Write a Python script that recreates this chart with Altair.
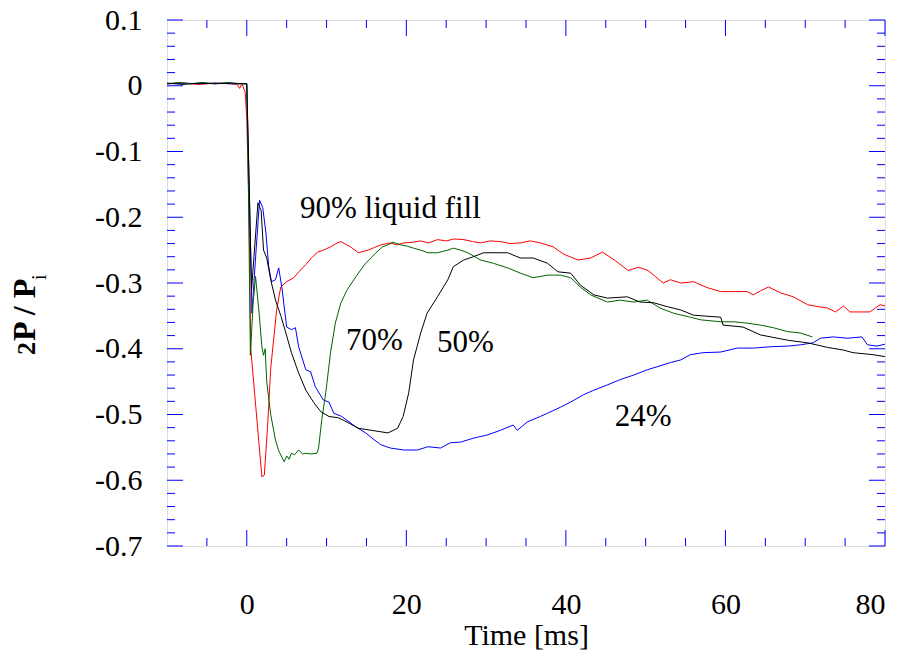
import altair as alt
import pandas as pd

# ---------------- data ----------------
RED_T = [-10, -8, -6, -4, -2, -1.2, -0.9, -0.6, -0.2, 0.0, 0.3, 0.5, 1.0, 1.5, 1.9, 2.2, 2.6, 3.0, 3.75,
         4.26, 5.0, 5.89, 6.6, 7.39, 8.1, 8.89, 9.6, 10.5, 11.2, 11.8, 12.4, 13.0, 14.0, 15.2, 16.0, 16.8,
         18.0, 18.8, 19.7, 20.8, 21.8, 22.8, 23.9, 25.0, 26.0, 27.2, 28.3, 29.3, 30.5, 31.8, 33.0, 34.3,
         35.5, 36.8, 38.4, 39.7, 41.5, 43.1, 44.6, 46.2, 47.8, 49.1, 50.3, 51.2, 52.2, 53.1, 54.4, 56.0,
         57.7, 59.4, 61.0, 62.7, 63.5, 64.4, 65.4, 66.9, 68.5, 70.3, 71.6, 72.8, 73.8, 74.8, 75.6, 77.0,
         78.1, 78.8, 79.4, 80.0]
RED_V = [0.003, 0.004, 0.002, 0.004, 0.003, 0.002, -0.004, 0.003, -0.01, -0.05, -0.2, -0.40, -0.47, -0.54,
         -0.595, -0.592, -0.52, -0.43, -0.34, -0.306, -0.298, -0.292, -0.282, -0.272, -0.262, -0.253,
         -0.25, -0.245, -0.24, -0.237, -0.241, -0.245, -0.254, -0.250, -0.246, -0.242, -0.239, -0.242,
         -0.239, -0.238, -0.236, -0.239, -0.234, -0.236, -0.233, -0.234, -0.237, -0.239, -0.236, -0.237,
         -0.240, -0.239, -0.236, -0.239, -0.245, -0.256, -0.265, -0.262, -0.253, -0.266, -0.281, -0.276,
         -0.281, -0.29, -0.300, -0.295, -0.300, -0.298, -0.307, -0.313, -0.313, -0.313, -0.318, -0.312,
         -0.306, -0.315, -0.321, -0.333, -0.336, -0.338, -0.344, -0.335, -0.344, -0.344, -0.344, -0.338,
         -0.333, -0.335]

GREEN_T = [-10, -8.5, -7, -5.5, -4, -2.5, -1, 0.0, 0.2, 0.45, 0.8, 1.1, 1.5, 1.9, 2.1, 2.3, 2.5, 3.0, 3.6,
           4.0, 4.4, 4.7, 5.0, 5.3, 5.6, 6.0, 6.5, 7.0, 7.4, 8.0, 8.8, 9.0, 9.4, 9.9, 10.5, 11.1, 11.8,
           12.6, 13.7, 14.9, 16.2, 17.0, 17.7, 18.3, 19.3, 20.1, 20.9, 21.8, 22.7, 23.9, 25.2, 25.9, 26.8,
           27.7, 29.3, 30.9, 32.7, 34.3, 35.9, 37.7, 39.3, 40.6, 41.8, 43.1, 45.2, 46.8, 48.5, 50.2, 51.8,
           53.5, 55.6, 56.9, 59.4, 61.0, 62.7, 64.4, 66.0, 67.8, 69.4, 70.9]
GREEN_V = [0.003, 0.005, 0.003, 0.005, 0.003, 0.005, 0.003, 0.003, -0.15, -0.41, -0.33, -0.29, -0.34,
           -0.397, -0.41, -0.40, -0.45, -0.50, -0.539, -0.555, -0.565, -0.572, -0.563, -0.568, -0.559,
           -0.561, -0.554, -0.56, -0.559, -0.56, -0.559, -0.551, -0.508, -0.467, -0.406, -0.361, -0.330,
           -0.310, -0.29, -0.27, -0.254, -0.245, -0.242, -0.238, -0.242, -0.244, -0.247, -0.25, -0.254,
           -0.254, -0.25, -0.247, -0.25, -0.254, -0.265, -0.270, -0.277, -0.285, -0.292, -0.288, -0.288,
           -0.292, -0.306, -0.318, -0.329, -0.326, -0.329, -0.326, -0.338, -0.346, -0.352, -0.356, -0.359,
           -0.359, -0.361, -0.364, -0.368, -0.374, -0.376, -0.382]

BLACK_T = [-10, -8, -6, -4, -2, 0.0, 0.3, 0.6, 0.9, 1.4, 1.8, 2.1, 2.5, 3.0, 3.6, 4.3, 4.9, 5.6, 6.5, 7.4,
           8.4, 9.3, 10.3, 11.5, 12.8, 14.0, 15.6, 17.7, 18.9, 19.6, 20.3, 20.9, 21.8, 22.6, 23.9, 25.2,
           25.9, 27.2, 28.4, 29.7, 31.4, 32.7, 34.3, 35.9, 37.7, 39.0, 40.6, 41.8, 43.5, 45.2, 47.7, 49.3,
           51.0, 52.7, 54.4, 56.0, 59.4, 59.7, 62.2, 64.4, 67.8, 70.3, 72.8, 74.8, 76.0, 78.5, 80.0]
BLACK_V = [0.004, 0.002, 0.004, 0.003, 0.004, 0.003, -0.15, -0.31, -0.26, -0.178, -0.19, -0.25, -0.262,
           -0.295, -0.326, -0.351, -0.376, -0.406, -0.437, -0.463, -0.482, -0.496, -0.503, -0.505, -0.513,
           -0.521, -0.524, -0.528, -0.521, -0.503, -0.467, -0.417, -0.376, -0.346, -0.321, -0.295, -0.275,
           -0.265, -0.260, -0.254, -0.254, -0.254, -0.262, -0.262, -0.270, -0.283, -0.285, -0.303, -0.318,
           -0.323, -0.321, -0.329, -0.330, -0.336, -0.341, -0.349, -0.352, -0.364, -0.367, -0.379, -0.387,
           -0.391, -0.398, -0.402, -0.406, -0.409, -0.412]

BLUE_T = [-10, -8, -6, -4, -2, 0.0, 0.3, 0.65, 1.0, 1.6, 2.0, 2.4, 2.75, 3.1, 3.6, 4.0, 4.4, 5.0, 5.6, 6.1,
          6.5, 7.4, 8.0, 8.6, 9.6, 10.3, 10.9, 11.9, 13.7, 14.9, 15.7, 16.8, 18.0, 19.7, 21.4, 22.7, 24.3,
          25.5, 26.8, 28.4, 30.2, 31.8, 33.4, 33.9, 35.2, 36.8, 37.7, 39.3, 40.6, 42.2, 43.5, 45.2, 46.8,
          48.5, 50.2, 51.8, 53.1, 54.4, 55.6, 57.2, 59.4, 61.5, 63.5, 65.6, 67.8, 69.4, 71.0, 71.9, 73.5,
          75.3, 77.1, 77.8, 79.0, 80.0]
BLUE_V = [0.003, 0.004, 0.003, 0.004, 0.003, 0.003, -0.15, -0.346, -0.28, -0.174, -0.185, -0.224, -0.275,
          -0.298, -0.295, -0.277, -0.307, -0.367, -0.371, -0.368, -0.397, -0.432, -0.435, -0.458, -0.478,
          -0.481, -0.498, -0.503, -0.519, -0.528, -0.536, -0.546, -0.551, -0.554, -0.554, -0.549, -0.551,
          -0.543, -0.542, -0.536, -0.531, -0.524, -0.516, -0.524, -0.511, -0.503, -0.498, -0.489, -0.481,
          -0.470, -0.463, -0.455, -0.447, -0.440, -0.432, -0.426, -0.421, -0.417, -0.409, -0.406, -0.405,
          -0.399, -0.399, -0.397, -0.396, -0.394, -0.391, -0.384, -0.382, -0.384, -0.382, -0.394, -0.396,
          -0.393]

SERIES = [("90%", RED_T, RED_V, "#ff0000"),
          ("24%", BLUE_T, BLUE_V, "#0000ff"),
          ("70%", GREEN_T, GREEN_V, "#006400"),
          ("50%", BLACK_T, BLACK_V, "#000000")]

ANNOT_TEXT = ["90% liquid fill", "70%", "50%", "24%"]
ANNOT_T = [18.0, 16.0, 27.4, 49.7]
ANNOT_V = [-0.187, -0.388, -0.391, -0.504]

X_LABELS = [0, 20, 40, 60, 80]
X_MINOR = [-5, 5, 10, 15, 25, 30, 35, 45, 50, 55, 65, 70, 75]
Y_LABELS = [0.1, 0.0, -0.1, -0.2, -0.3, -0.4, -0.5, -0.6, -0.7]
Y_MINOR = [round(-0.7 + 0.02 * k, 2) for k in range(41) if k % 5 != 0]

W, H = 718, 526
FONT = "Liberation Serif"
FRAME = "#0000ff"

xs = alt.Scale(domain=[-10, 80], nice=False, zero=False)
ys = alt.Scale(domain=[-0.7, 0.1], nice=False, zero=False)

x_axis = alt.Axis(values=X_LABELS, ticks=False, tickSize=0, domain=False, grid=False,
                  labelFont=FONT, labelFontSize=30, labelColor="black", labelPadding=43,
                  title="Time  [ms]", titleFont=FONT, titleFontSize=30, titleFontWeight="normal",
                  titleColor="black", titleY=89, titleBaseline="middle")
y_axis = alt.Axis(values=Y_LABELS, ticks=False, tickSize=0, domain=False, grid=False,
                  labelFont=FONT, labelFontSize=30, labelColor="black", labelPadding=25,
                  labelExpr="datum.value == 0 ? '0' : replace(format(datum.value, '.1f'), '\u2212', '-')",
                  title="")

X_ENC = alt.X("t:Q", scale=xs, axis=x_axis)
Y_ENC = alt.Y("v:Q", scale=ys, axis=y_axis)

layers = []
for name, ts, vs, col in SERIES:
    df = pd.DataFrame({"t": ts, "v": vs})
    layers.append(alt.Chart(df).mark_line(color=col, strokeWidth=1).encode(x=X_ENC, y=Y_ENC))

# annotations
ann = pd.DataFrame({"t": ANNOT_T, "v": ANNOT_V, "label": ANNOT_TEXT})
layers.append(alt.Chart(ann).mark_text(font=FONT, fontSize=31, color="black", align="center",
                                       baseline="middle").encode(x=X_ENC, y=Y_ENC, text="label:N"))

# inward ticks on all four sides
def xticks(vals, length):
    df = pd.DataFrame({"t": vals})
    bot = alt.Chart(df).mark_rule(color=FRAME, strokeWidth=1).encode(
        x=X_ENC, y=alt.value(H), y2=alt.value(H - length))
    top = alt.Chart(df).mark_rule(color=FRAME, strokeWidth=1).encode(
        x=X_ENC, y=alt.value(0), y2=alt.value(length))
    return [bot, top]

def yticks(vals, length):
    df = pd.DataFrame({"v": vals})
    left = alt.Chart(df).mark_rule(color=FRAME, strokeWidth=1).encode(
        y=Y_ENC, x=alt.value(0), x2=alt.value(length))
    right = alt.Chart(df).mark_rule(color=FRAME, strokeWidth=1).encode(
        y=Y_ENC, x=alt.value(W), x2=alt.value(W - length))
    return [left, right]

layers += xticks(X_LABELS, 16) + xticks(X_MINOR, 8)
layers += yticks(Y_LABELS, 16) + yticks(Y_MINOR, 8)

# y-axis title: "2P / P" with subscript i, rotated
one = pd.DataFrame({"a": [0]})
layers.append(alt.Chart(one).mark_text(font=FONT, fontSize=26, fontWeight="bold", color="black",
                                       angle=270, align="left", baseline="alphabetic").encode(
    x=alt.value(-132), y=alt.value(335), text=alt.value("2")))
layers.append(alt.Chart(one).mark_text(font=FONT, fontSize=32, fontWeight="bold", color="black",
                                       angle=270, align="left", baseline="alphabetic").encode(
    x=alt.value(-132), y=alt.value(321), text=alt.value("P / P")))
layers.append(alt.Chart(one).mark_text(font=FONT, fontSize=20, color="black",
                                       angle=270, align="left", baseline="alphabetic").encode(
    x=alt.value(-121), y=alt.value(260), text=alt.value("i")))

chart = alt.layer(*layers).properties(
    width=W, height=H,
    autosize=alt.AutoSizeParams(type="none"),
    padding={"left": 159, "top": 12, "right": 15, "bottom": 104},
).configure_view(stroke=FRAME, strokeWidth=1.5).configure(background="white")

chart.save("out.html", embed_options={"renderer": "svg", "actions": False})
